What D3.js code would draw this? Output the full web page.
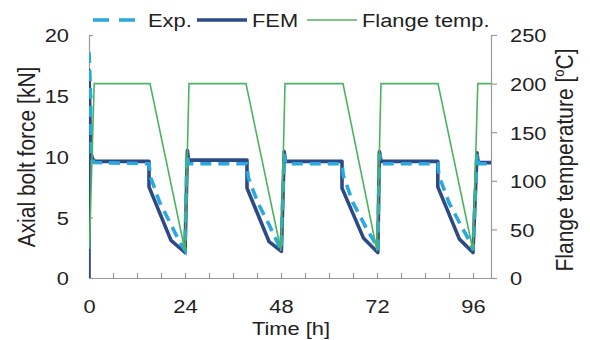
<!DOCTYPE html>
<html><head><meta charset="utf-8">
<script src="https://cdn.jsdelivr.net/npm/d3@7/dist/d3.min.js"></script>
<style>body{margin:0;background:#fff}svg{display:block}text{font-family:"Liberation Sans",Arial,sans-serif;fill:#222}</style>
</head><body><svg id="c" width="590" height="340"></svg>
<script>
// ---- data ----
const seriesNames = ["Exp.", "FEM", "Flange temp."];
const xTickLabels = [0, 24, 48, 72, 96];
const xMinorTicks = [6, 12, 18, 30, 36, 42, 54, 60, 66, 78, 84, 90];
const yLeftTicks = [0, 5, 10, 15, 20];
const yRightTicks = [0, 50, 100, 150, 200, 250];
// Time [h], axial bolt force [kN]
const femTime  = [0,0,0.4,0.9,1.5,15,15,20.5,24,24.6,24.9,39.5,39.5,45,48.1,48.8,49.1,63.25,63.25,68.6,72.2,72.6,73,87.2,87.2,92.6,96,97,97.3,100.5];
const femForce = [0,17.1,10.4,9.8,9.6,9.6,7.5,3.1,2.1,10.5,9.7,9.7,7.4,3.0,2.2,10.4,9.6,9.6,7.4,3.3,2.1,10.4,9.6,9.6,7.5,3.2,2.1,10.3,9.5,9.5];
const expTime  = [0,0.3,0.6,1.2,15,15.4,17.7,20.5,22.6,24,24.5,24.9,39.5,39.8,42.2,45,47,48,48.8,49.2,63.25,63.6,66,69.5,71.5,72.2,72.6,73,87.2,87.5,90,93.5,95.4,96,97,97.4,100.5];
const expForce = [18.6,16,10.3,9.5,9.4,8.3,6.2,4.4,3.0,2.3,10.2,9.4,9.4,8.3,6.2,4.4,3.0,2.3,10.2,9.4,9.4,8.4,6.2,4.0,2.9,2.3,10.2,9.4,9.4,8.4,6.2,4.0,2.9,2.3,10.2,9.4,9.4];
// Time [h], flange temperature [°C]
const tempTime  = [0.1,1.3,15.25,24,25,39.25,48,49,63.5,72,73,87.25,96,97.2,100.5];
const tempValue = [30,200,200,28,200,200,28,200,200,28,200,200,28,200,200];

// ---- layout ----
const svg = d3.select("#c");
const L = 89, R = 491, T = 35, B = 278;
const SX = 1.15, FS = 19;
const x = d3.scaleLinear().domain([0, 100.5]).range([L, R]);
const yL = d3.scaleLinear().domain([0, 20]).range([B, T]);
const yR = d3.scaleLinear().domain([0, 250]).range([B, T]);
const axisColor = "#9a9a9a";

function styleAxis(g){
  g.select(".domain").attr("stroke", axisColor).attr("stroke-width", 1.2);
  g.selectAll(".tick line").attr("stroke", axisColor).attr("stroke-width", 1.2);
  g.selectAll("text").attr("font-size", FS).attr("fill", "#222").attr("font-family", null);
}

// left axis
const gL = svg.append("g").attr("transform", `translate(${L},0)`)
  .call(d3.axisLeft(yL).tickValues(yLeftTicks).tickSizeInner(-4).tickSizeOuter(0));
styleAxis(gL);
gL.selectAll(".tick text").attr("x", -20/SX).attr("dy", "0.36em").attr("transform", `scale(${SX},1)`);

// right axis
const gR = svg.append("g").attr("transform", `translate(${R},0)`)
  .call(d3.axisRight(yR).tickValues(yRightTicks).tickSizeInner(6).tickSizeOuter(0));
styleAxis(gR);
gR.selectAll(".tick text").attr("x", 19/SX).attr("dy", "0.36em").attr("transform", `scale(${SX},1)`);

// bottom axis
const gB = svg.append("g").attr("transform", `translate(0,${B})`)
  .call(d3.axisBottom(x).tickValues(xTickLabels).tickSizeInner(-5).tickSizeOuter(0));
styleAxis(gB);
gB.selectAll(".tick text").attr("y", 35).attr("dy", 0).attr("transform", `scale(${SX},1)`);
const gBm = svg.append("g").attr("transform", `translate(0,${B})`)
  .call(d3.axisBottom(x).tickValues(xMinorTicks).tickSizeInner(-5).tickSizeOuter(0).tickFormat(""));
styleAxis(gBm);
gBm.select(".domain").remove();

// clip
svg.append("clipPath").attr("id", "clip").append("rect")
  .attr("x", L).attr("y", T - 10).attr("width", R - L).attr("height", B - T + 10);

const plot = svg.append("g").attr("clip-path", "url(#clip)");
const femColor = "#2d4a86", expColor = "#2aa8e0", tempColor = "#4db35f";

const lineL = d3.line().x(d => x(d[0])).y(d => yL(d[1]));
const lineR = d3.line().x(d => x(d[0])).y(d => yR(d[1]));

plot.append("path").datum(d3.zip(femTime, femForce)).attr("d", lineL)
  .attr("fill", "none").attr("stroke", femColor).attr("stroke-width", 3.6).attr("stroke-linejoin", "round");
plot.append("path").datum(d3.zip(expTime, expForce)).attr("d", lineL)
  .attr("fill", "none").attr("stroke", expColor).attr("stroke-width", 3.6).attr("stroke-dasharray", "11,7");
plot.append("path").datum(d3.zip(tempTime, tempValue)).attr("d", lineR)
  .attr("fill", "none").attr("stroke", tempColor).attr("stroke-width", 1.6);

// axis titles
function txt(xp, yp, s, anchor, extra){
  return svg.append("text").attr("transform", `translate(${xp},${yp}) scale(${SX},1)` + (extra || ""))
    .attr("text-anchor", anchor).attr("font-size", FS).text(s);
}
txt(291, 335, "Time [h]", "middle");
txt(35, 157, "Axial bolt force [kN]", "middle", " rotate(-90)").attr("font-size", 21);
const rt = svg.append("text").attr("transform", `translate(573,160) scale(${SX},1) rotate(-90)`)
  .attr("text-anchor", "middle").attr("font-size", 21);
rt.append("tspan").text("Flange temperature [");
rt.append("tspan").attr("font-size", 13).attr("dy", -8).text("o");
rt.append("tspan").attr("dy", 8).text("C]");

// legend
const legY = 20;
const leg = [
  {name: seriesNames[0], x0: 93, x1: 140, tx: 148, color: expColor, w: 3.6, dash: "16,10"},
  {name: seriesNames[1], x0: 197, x1: 247, tx: 252, color: femColor, w: 3.6, dash: null},
  {name: seriesNames[2], x0: 307, x1: 357, tx: 362, color: tempColor, w: 1.6, dash: null}
];
leg.forEach(d => {
  svg.append("line").attr("x1", d.x0).attr("x2", d.x1).attr("y1", legY).attr("y2", legY)
    .attr("stroke", d.color).attr("stroke-width", d.w).attr("stroke-dasharray", d.dash);
  txt(d.tx, 27, d.name, "start");
});
</script></body></html>
